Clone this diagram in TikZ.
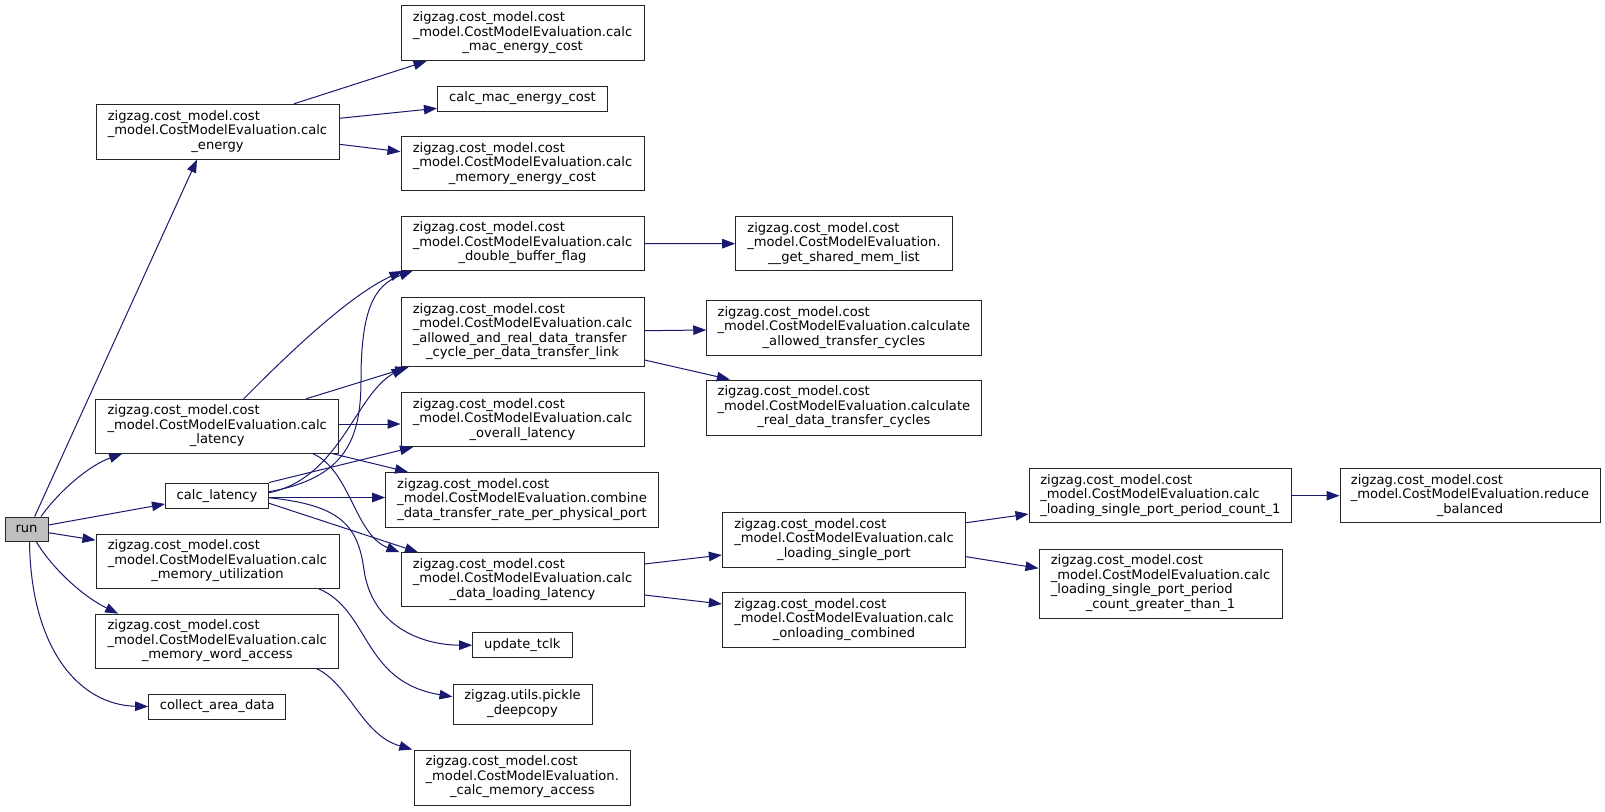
\documentclass[tikz,border=0pt]{standalone}
\usepackage{fontspec}
\setmainfont{DejaVu Sans}
\usetikzlibrary{arrows.meta}
\definecolor{edgeblue}{HTML}{191970}
\definecolor{boxline}{HTML}{262626}
\definecolor{rootfill}{HTML}{BFBFBF}
\newcommand{\dlbl}[2]{\begin{tabular}{@{}l@{}}#1\\\multicolumn{1}{@{}c@{}}{#2}\end{tabular}}
\newcommand{\tlbl}[3]{\begin{tabular}{@{}l@{}}#1\\#2\\\multicolumn{1}{@{}c@{}}{#3}\end{tabular}}
\newcommand{\flbl}[4]{\begin{tabular}{@{}l@{}}#1\\#2\\#3\\\multicolumn{1}{@{}c@{}}{#4}\end{tabular}}
\newcommand{\zz}{zigzag.cost\_model.cost}
\newcommand{\cme}{\_model.CostModelEvaluation}
\begin{document}
\begin{tikzpicture}[x=1pt,y=-1pt,
  box/.style={draw=boxline, line width=1pt, fill=white, inner sep=0pt,
    minimum width=243pt, minimum height=54pt,
    font=\fontsize{13.1}{14.5}\selectfont},
  edge/.style={draw=edgeblue, line width=1pt, -{Triangle[length=13pt,width=9.5pt]}}]
\fill[white] (0,0) rectangle (1605,811);
\useasboundingbox (0,0) rectangle (1605,811);

% column 1
\node[box, fill=rootfill, minimum width=43pt, minimum height=24.5pt] (run) at (26.5,529.25) {run};
\node[box, minimum height=54.7pt] (E) at (217.5,131.65) {\tlbl{\zz}{\cme.calc}{\_energy}};
\node[box] (L) at (217.2,426.3) {\tlbl{\zz}{\cme.calc}{\_latency}};
\node[box, minimum width=103pt, minimum height=25.5pt] (S) at (217,495.75) {calc\_latency};
\node[box] (MU) at (217.5,561.15) {\tlbl{\zz}{\cme.calc}{\_memory\_utilization}};
\node[box] (MW) at (217.2,641.15) {\tlbl{\zz}{\cme.calc}{\_memory\_word\_access}};
\node[box, minimum width=137pt, minimum height=25pt] (CA) at (217.15,706.5) {collect\_area\_data};

% column 2
\node[box, minimum height=55pt] (A1) at (522.5,33.2) {\tlbl{\zz}{\cme.calc}{\_mac\_energy\_cost}};
\node[box, minimum width=170pt, minimum height=25pt] (A2) at (522.45,98.5) {calc\_mac\_energy\_cost};
\node[box] (A3) at (522.5,163.85) {\tlbl{\zz}{\cme.calc}{\_memory\_energy\_cost}};
\node[box] (D) at (522.5,243.5) {\tlbl{\zz}{\cme.calc}{\_double\_buffer\_flag}};
\node[box, minimum height=69.4pt] (AR) at (522.5,332) {\flbl{\zz}{\cme.calc}{\_allowed\_and\_real\_data\_transfer}{\_cycle\_per\_data\_transfer\_link}};
\node[box] (OL) at (522.5,419.7) {\tlbl{\zz}{\cme.calc}{\_overall\_latency}};
\node[box, minimum width=272.6pt, minimum height=54.8pt] (CB) at (522,499.9) {\tlbl{\zz}{\cme.combine}{\_data\_transfer\_rate\_per\_physical\_port}};
\node[box] (DL) at (522.5,579.7) {\tlbl{\zz}{\cme.calc}{\_data\_loading\_latency}};
\node[box, minimum width=99.3pt, minimum height=25pt] (UT) at (522.35,645.2) {update\_tclk};
\node[box, minimum width=139pt, minimum height=40pt] (PK) at (522.5,704) {\dlbl{zigzag.utils.pickle}{\_deepcopy}};
\node[box, minimum width=216.6pt, minimum height=55pt] (CMA) at (522.3,777.5) {\tlbl{\zz}{\cme.}{\_calc\_memory\_access}};

% column 3
\node[box, minimum width=216.6pt] (GS) at (844,243.7) {\tlbl{\zz}{\cme.}{\_\_get\_shared\_mem\_list}};
\node[box, minimum width=274.3pt, minimum height=54.3pt] (CAT) at (843.9,327.85) {\tlbl{\zz}{\cme.calculate}{\_allowed\_transfer\_cycles}};
\node[box, minimum width=274.3pt, minimum height=55pt] (CRT) at (843.9,407.5) {\tlbl{\zz}{\cme.calculate}{\_real\_data\_transfer\_cycles}};
\node[box, minimum width=243.3pt, minimum height=54.3pt] (LSP) at (844,539.85) {\tlbl{\zz}{\cme.calc}{\_loading\_single\_port}};
\node[box, minimum width=243.3pt, minimum height=54.3pt] (ON) at (844,619.85) {\tlbl{\zz}{\cme.calc}{\_onloading\_combined}};

% column 4 and 5
\node[box, minimum width=262.7pt] (PC1) at (1160.35,495.7) {\tlbl{\zz}{\cme.calc}{\_loading\_single\_port\_period\_count\_1}};
\node[box, minimum height=69.3pt] (GT1) at (1160.5,583.65) {\flbl{\zz}{\cme.calc}{\_loading\_single\_port\_period}{\_count\_greater\_than\_1}};
\node[box, minimum width=260pt] (RB) at (1470,495.7) {\tlbl{\zz}{\cme.reduce}{\_balanced}};

% edges from run
\draw[edge] ([xshift=8.2pt]run.north) -- ([xshift=-20.5pt]E.south);
\draw[edge] ([xshift=14.5pt]run.north) .. controls (60,490) and (90,465) .. ([xshift=-95pt]L.south);
\draw[edge] ([yshift=4.25pt]run.east) -- ([yshift=-8.25pt]S.west);
\draw[edge] ([yshift=-3.5pt]run.east) -- ([yshift=21pt]MU.west);
\draw[edge] ([xshift=10pt]run.south) .. controls (50,565) and (80,595) .. ([xshift=-99pt]MW.north);
\draw[edge] ([xshift=3pt]run.south) .. controls (31,650) and (80,705) .. (CA.west);

% edges from calc_energy
\draw[edge] ([xshift=76.5pt]E.north) -- ([xshift=-96pt]A1.south);
\draw[edge] ([yshift=13.35pt]E.east) -- ([yshift=-9.8pt]A2.west);
\draw[edge] ([yshift=-12.65pt]E.east) -- ([yshift=12.15pt]A3.west);

% edges from calc_latency (long)
\draw[edge] ([xshift=26.5pt]L.north) .. controls (290,352) and (350,295) .. ([xshift=-120pt]D.south);
\draw[edge] ([xshift=89pt]L.north) -- ([xshift=-114pt]AR.south);
\draw[edge] ([yshift=2.3pt]L.east) -- ([yshift=-4.3pt]OL.west);
\draw[edge] ([xshift=116pt]L.south) -- ([xshift=-114pt]CB.north);
\draw[edge] ([xshift=96pt]L.south) .. controls (350,470) and (355,535) .. ([xshift=-123pt]DL.north);

% edges from calc_latency (short)
\draw[edge] ([yshift=4pt]S.east) .. controls (345,478) and (361,440) .. (361,380) .. controls (361,310) and (374,285) .. ([xshift=-110pt]D.south);
\draw[edge] ([yshift=3pt]S.east) .. controls (340,478) and (355,395) .. ([xshift=-118pt]AR.south);
\draw[edge] (S.north east) -- ([xshift=-109.5pt]OL.south);
\draw[edge] ([yshift=-1.75pt]S.east) -- ([yshift=2.4pt]CB.west);
\draw[edge] ([yshift=-7.5pt]S.east) -- ([xshift=-104.5pt]DL.north);
\draw[edge] ([yshift=-2pt]S.east) .. controls (340,505) and (358,525) .. (364,570) .. controls (372,625) and (420,645) .. (UT.west);

% other edges
\draw[edge] ([xshift=101pt]MU.south) .. controls (370,610) and (362,682) .. ([yshift=7.3pt]PK.west);
\draw[edge] ([xshift=99.5pt]MW.south) .. controls (350,685) and (362,735) .. ([xshift=-110pt]CMA.north);
\draw[edge] (D.east) -- (GS.west);
\draw[edge] ([yshift=1.3pt]AR.east) -- ([yshift=-2.15pt]CAT.west);
\draw[edge] ([yshift=-28pt]AR.east) -- ([xshift=-114pt]CRT.north);
\draw[edge] ([yshift=15.7pt]DL.east) -- ([yshift=-15.15pt]LSP.west);
\draw[edge] ([yshift=-15.3pt]DL.east) -- ([yshift=15.85pt]ON.west);
\draw[edge] ([yshift=17.15pt]LSP.east) -- ([yshift=-18.3pt]PC1.west);
\draw[edge] ([yshift=-16.85pt]LSP.east) -- ([yshift=15.35pt]GT1.west);
\draw[edge] (PC1.east) -- (RB.west);
\end{tikzpicture}
\end{document}
